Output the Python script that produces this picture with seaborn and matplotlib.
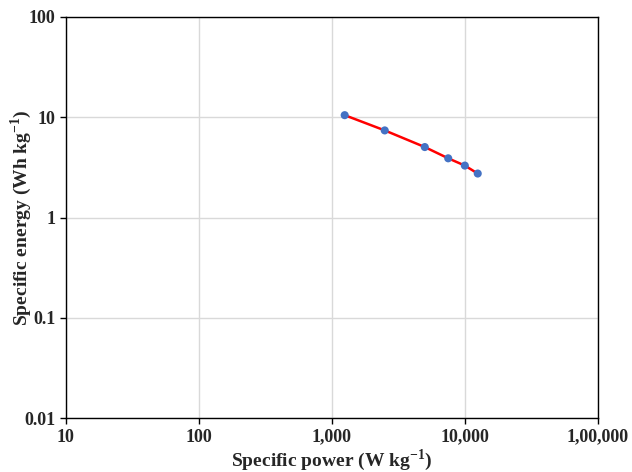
import seaborn as sns
import pandas as pd
import numpy as np
import matplotlib.pyplot as plt

# data
power = [1250, 2500, 5000, 7500, 10000, 12500]      # W/kg
energy = [10.5, 7.4, 5.05, 3.9, 3.3, 2.75]          # Wh/kg

x_ticks = [10, 100, 1000, 10000, 100000]
x_labels = ["10", "100", "1,000", "10,000", "1,00,000"]
y_ticks = [0.01, 0.1, 1, 10, 100]
y_labels = ["0.01", "0.1", "1", "10", "100"]

df = pd.DataFrame({"power": power, "energy": energy})

sns.set_style("white")
plt.rcParams['font.family'] = ['Liberation Serif', 'DejaVu Serif']
plt.rcParams['mathtext.fontset'] = 'custom'
plt.rcParams['mathtext.rm'] = 'Liberation Serif'
plt.rcParams['mathtext.bf'] = 'Liberation Serif:bold'

fig = plt.figure(figsize=(6.32, 4.72), dpi=100)
ax = fig.add_axes([0.104, 0.114, 0.842, 0.85])

sns.lineplot(data=df, x="power", y="energy", color="red", linewidth=1.8, ax=ax)
sns.scatterplot(data=df, x="power", y="energy", color="#4472C4", s=34,
                edgecolor="none", zorder=3, ax=ax)

ax.set_xscale("log")
ax.set_yscale("log")
ax.set_xlim(10, 100000)
ax.set_ylim(0.01, 100)
ax.set_xticks(x_ticks)
ax.set_xticklabels(x_labels, fontsize=13, fontweight="bold")
ax.set_yticks(y_ticks)
ax.set_yticklabels(y_labels, fontsize=13, fontweight="bold")
ax.minorticks_off()
ax.tick_params(axis="both", which="major", direction="out", length=4,
               width=1, color="black", left=True, bottom=True)
ax.grid(True, color="#d9d9d9", linewidth=1)

for s in ax.spines.values():
    s.set_color("black")
    s.set_linewidth(1)

ax.set_xlabel(r"Specific power (W kg$^{\mathbf{-1}}$)", fontsize=14, fontweight="bold", labelpad=1)
ax.set_ylabel(r"Specific energy (Wh kg$^{\mathbf{-1}}$)", fontsize=14, fontweight="bold")
ax.yaxis.set_label_coords(-0.06, 0.5)

fig.savefig("out.png", dpi=100)
